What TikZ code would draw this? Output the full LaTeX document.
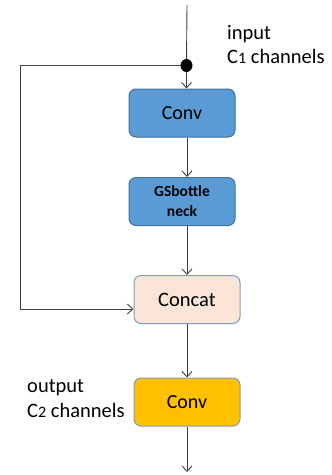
\documentclass[tikz,border=0pt]{standalone}
\usepackage{fontspec}
\setmainfont{Carlito}
\usetikzlibrary{arrows.meta}
\definecolor{convblue}{HTML}{5B9BD5}
\definecolor{convedge}{HTML}{41719C}
\definecolor{catfill}{HTML}{FBE5D6}
\definecolor{softedge}{HTML}{7F9CC3}
\definecolor{gold}{HTML}{FFC000}
\definecolor{wire}{HTML}{404040}
\tikzset{
  block/.style={rounded corners=7pt, minimum width=106pt, minimum height=48pt,
    inner sep=0pt, line width=1pt, text=black},
  wirestyle/.style={draw=wire, line width=0.9pt},
  flow/.style={wirestyle, -{Straight Barb[length=5.5pt,width=10pt,line width=0.9pt]}},
  caption/.style={align=left, inner sep=0pt, anchor=north west,
    font=\fontsize{20.5}{24.5}\selectfont}
}
\newcommand{\chdigit}[1]{{\fontsize{16}{16}\selectfont #1}}
\begin{document}
\begin{tikzpicture}[x=1pt,y=-1pt]
\useasboundingbox (0,0) rectangle (332,475);

% blocks
\node[block, fill=convblue, draw=convedge, font=\fontsize{20}{20}\selectfont] (conv1) at (182,113) {Conv};
\node[block, fill=convblue, draw=convedge, align=center,
      font=\bfseries\fontsize{15.5}{20}\selectfont] (gsb) at (182,201.5) {GSbottle\\neck};
\node[block, fill=catfill, draw=softedge, font=\fontsize{20.5}{20}\selectfont] (concat) at (187,299.5) {Concat};
\node[block, fill=gold, draw=softedge, font=\fontsize{20}{20}\selectfont] (conv2) at (187,402) {Conv};

% wiring points
\coordinate (top) at (187,5);
\coordinate (split) at (186.5,65.5);
\coordinate (loopA) at (20,65.5);
\coordinate (loopB) at (20,309);
\coordinate (bottom) at (187,472);

% main path
\draw[wirestyle] (top) -- (split);
\draw[flow] (split) -- (split |- conv1.north);
\draw[flow] (conv1.south -| top) -- (gsb.north -| top);
\draw[flow] (gsb.south -| top) -- (concat.north -| top);
\draw[flow] (concat.south -| top) -- (conv2.north -| top);
\draw[flow] (conv2.south -| top) -- (bottom);

% shortcut branch
\draw[flow] (split) -- (loopA) -- (loopB) -- (loopB -| concat.west);
\fill[black] (split) ellipse (6pt and 6.5pt);

% labels
\node[caption] (inlabel) at (227,25) {input\\C\chdigit{1} channels};
\node[caption] (outlabel) at (27,379.5) {output\\C\chdigit{2} channels};
\end{tikzpicture}
\end{document}
